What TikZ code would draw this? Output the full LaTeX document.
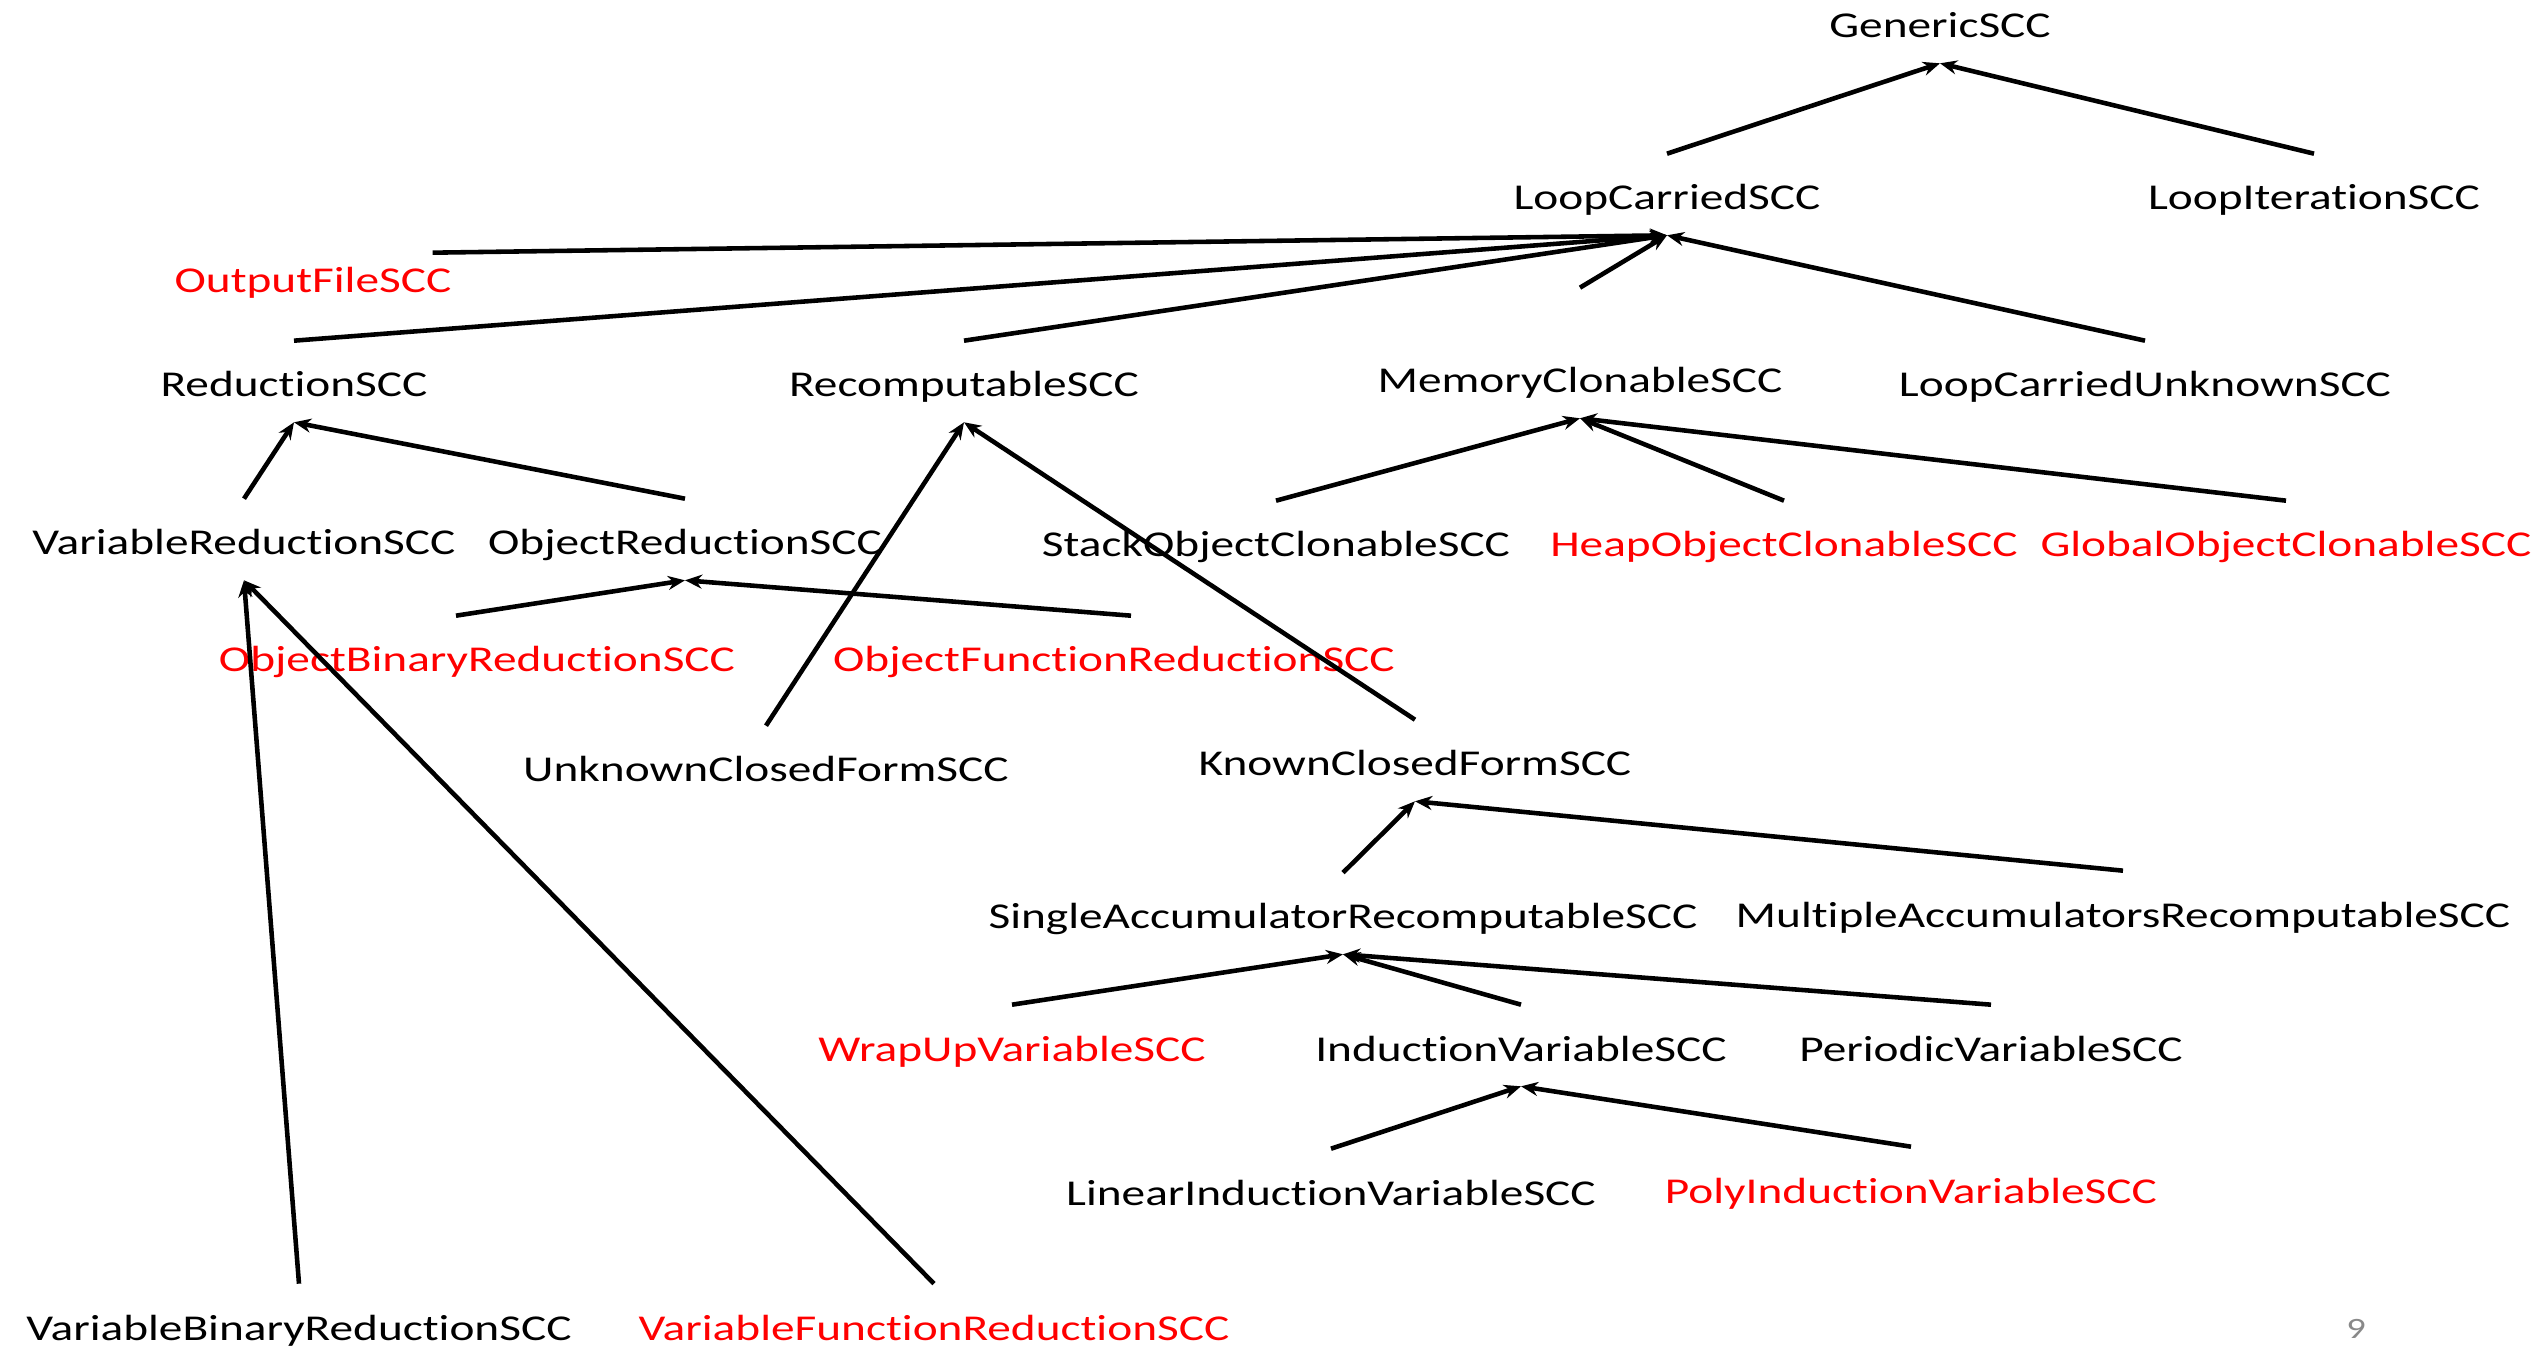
\documentclass[tikz,border=0pt]{standalone}
\usepackage{fontspec}
\setmainfont{Carlito}[FakeStretch=1.3,Ligatures=NoCommon,Numbers=Lining]
\usetikzlibrary{arrows.meta}
\definecolor{pagegray}{RGB}{137,137,137}

\begin{document}
\begin{tikzpicture}[x=0.01cm,y=-0.01cm,line width=1.3pt]
        \tikzstyle{cls}=[inner sep=0pt,anchor=base,text height=0.54cm,text depth=0.23cm,font=\fontsize{10.35}{12}\selectfont]
        \tikzstyle{isa}=[-{Stealth[length=0.17cm,width=0.14cm]}]
        \useasboundingbox (0,0) rectangle (2544,1349);

        % black classes
        \foreach \name/\x/\y/\txt in {gen/1940/38/GenericSCC, lc/1667/210/LoopCarriedSCC, li/2314/210/LoopIterationSCC,
                rdn/294/397/ReductionSCC, rec/964/397/RecomputableSCC, mem/1580/393/MemoryClonableSCC,
                lcu/2145/397/LoopCarriedUnknownSCC, vr/244/555/VariableReductionSCC, orr/685/555/ObjectReductionSCC,
                stk/1276/557/StackObjectClonableSCC, ucf/766/782/UnknownClosedFormSCC, kcf/1415/776/KnownClosedFormSCC,
                sar/1343/929/SingleAccumulatorRecomputableSCC, mar/2123/927/MultipleAccumulatorsRecomputableSCC,
                ind/1521/1061/InductionVariableSCC, per/1991/1061/PeriodicVariableSCC,
                lin/1331/1205/LinearInductionVariableSCC, vbin/299/1340/VariableBinaryReductionSCC}
                \node[cls] (\name) at (\x,\y) {\txt};

        % red classes
        \foreach \name/\x/\y/\txt in {out/313/293/OutputFileSCC, heap/1784/557/HeapObjectClonableSCC,
                glob/2286/557/GlobalObjectClonableSCC, obin/477/672/ObjectBinaryReductionSCC,
                ofun/1114/672/ObjectFunctionReductionSCC, wrap/1012/1061/WrapUpVariableSCC,
                poly/1911/1203/PolyInductionVariableSCC, vfun/934/1340/VariableFunctionReductionSCC}
                \node[cls,red] (\name) at (\x,\y) {\txt};

        \foreach \from/\to in {lc/gen, li/gen, rdn/lc, rec/lc, lcu/lc, vr/rdn, orr/rdn, ucf/rec, kcf/rec,
                stk/mem, heap/mem, glob/mem, vbin/vr, vfun/vr, sar/kcf, mar/kcf,
                wrap/sar, ind/sar, per/sar, lin/ind, poly/ind}
                \draw[isa] (\from.north) -- (\to.south);

        \draw[isa] ([shift={(-21,16)}]out.north east) -- (lc.south);
        \draw[isa] ([yshift=0.49cm]mem.north) -- (lc.south);
        \draw[isa] ([xshift=-0.21cm]obin.north) -- (orr.south);
        \draw[isa] ([xshift=0.17cm]ofun.north) -- (orr.south);

        \node[anchor=base,text=pagegray,font=\fontsize{8.4}{10}\selectfont] (page) at (2356,1338) {9};
\end{tikzpicture}
\end{document}
